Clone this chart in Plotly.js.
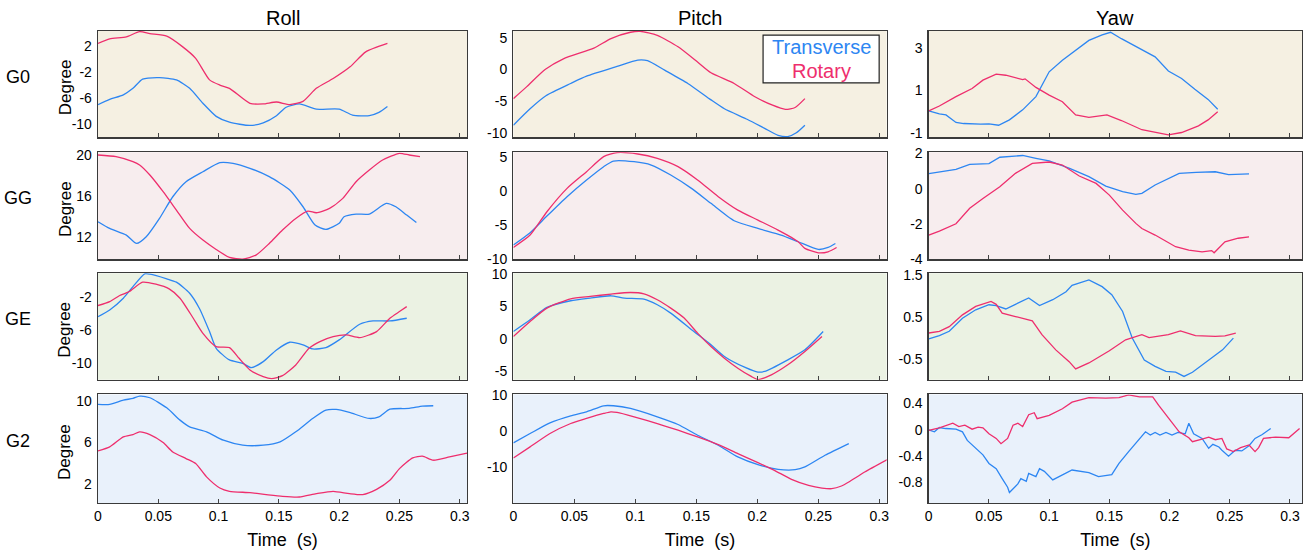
<!DOCTYPE html>
<html>
<head>
<meta charset="utf-8">
<script src="https://cdn.plot.ly/plotly-3.0.1.min.js"></script>
<style>html,body{margin:0;padding:0;background:#fff;}#chart{width:1305px;height:550px;}</style>
</head>
<body>
<div id="chart"></div>
<script>
// ---------- data ----------
const columns = ["Roll", "Pitch", "Yaw"];
const rows = ["G0", "GG", "GE", "G2"];
const seriesNames = ["Transverse", "Rotary"];

// Row G0
const rollG0_tTr = [0,0.0097,0.021,0.029,0.037,0.051,0.065,0.076,0.087,0.098,0.109,0.126,0.137,0.148,0.156,0.167,0.181,0.200,0.211,0.225,0.233,0.240];
const rollG0_tr  = [-7.0,-6.2,-5.5,-4.5,-3.1,-2.85,-3.2,-4.5,-6.8,-8.8,-9.7,-10.2,-9.8,-8.7,-7.4,-6.9,-7.7,-7.7,-8.6,-8.7,-8.2,-7.3];
const rollG0_tRo = [0,0.0097,0.0235,0.0345,0.043,0.057,0.070,0.081,0.0925,0.101,0.109,0.126,0.137,0.148,0.159,0.170,0.181,0.195,0.209,0.222,0.240];
const rollG0_ro  = [2.4,3.1,3.4,4.2,3.9,3.5,1.9,0.1,-3.2,-4.0,-4.5,-6.8,-6.9,-6.6,-7.0,-6.5,-4.5,-3.0,-1.2,1.1,2.4];

const pitchG0_tTr = [0,0.0137,0.027,0.047,0.060,0.085,0.102,0.110,0.124,0.143,0.162,0.173,0.192,0.206,0.217,0.225,0.232,0.239];
const pitchG0_tr  = [-8.8,-6.2,-4.1,-2.2,-1.05,0.5,1.5,1.4,-0.1,-2.2,-4.8,-6.2,-7.9,-9.3,-10.4,-10.6,-10.0,-8.8];
const pitchG0_tRo = [0,0.011,0.026,0.041,0.066,0.080,0.096,0.104,0.118,0.135,0.151,0.162,0.181,0.198,0.212,0.223,0.231,0.239];
const pitchG0_ro  = [-4.6,-2.7,0,1.7,3.4,4.9,5.9,6.05,5.4,3.6,1.2,-0.5,-2.2,-4.3,-5.6,-6.3,-6.0,-4.6];

const yawG0_tTr = [0,0.0088,0.0143,0.0226,0.029,0.036,0.043,0.050,0.054,0.058,0.067,0.078,0.089,0.100,0.111,0.122,0.133,0.144,0.151,0.160,0.177,0.188,0.199,0.210,0.221,0.232,0.240];
const yawG0_tr  = [0.04,-0.1,-0.15,-0.5,-0.55,-0.57,-0.58,-0.57,-0.6,-0.63,-0.38,0.09,0.71,1.87,2.41,2.88,3.34,3.6,3.72,3.42,2.9,2.57,1.91,1.56,1.05,0.58,0.12];
const yawG0_tRo = [0,0.0088,0.0226,0.036,0.045,0.056,0.064,0.078,0.080,0.089,0.100,0.111,0.122,0.133,0.148,0.160,0.177,0.199,0.210,0.224,0.232,0.240];
const yawG0_ro  = [0.04,0.27,0.71,1.09,1.48,1.76,1.71,1.51,1.54,1.14,0.78,0.47,-0.15,-0.26,-0.15,-0.41,-0.84,-1.08,-0.97,-0.66,-0.38,0.0];

// Row GG
const rollGG_tTr = [0,0.0097,0.0235,0.032,0.040,0.051,0.062,0.073,0.087,0.101,0.112,0.126,0.142,0.159,0.170,0.180,0.189,0.200,0.204,0.214,0.225,0.239,0.247,0.256,0.264];
const rollGG_tr  = [13.53,12.88,12.23,11.42,12.07,13.85,15.95,17.41,18.38,19.26,19.19,18.71,17.9,16.6,14.98,13.2,12.78,13.37,14.01,14.27,14.27,15.31,14.98,14.17,13.46];
const rollGG_tRo = [0,0.015,0.029,0.0345,0.043,0.054,0.065,0.076,0.087,0.098,0.109,0.120,0.131,0.142,0.153,0.164,0.174,0.181,0.192,0.203,0.214,0.225,0.236,0.250,0.258,0.267];
const rollGG_ro  = [20,19.84,19.35,19.03,18.06,16.44,14.66,12.88,11.75,10.84,10.06,9.9,10.29,11.42,12.72,13.85,14.56,14.4,14.82,15.79,17.41,18.54,19.51,20.16,20.0,19.84];

const pitchGG_tTr = [0,0.0137,0.0275,0.044,0.060,0.074,0.082,0.099,0.113,0.129,0.146,0.162,0.181,0.2005,0.2195,0.2335,0.250,0.258,0.264];
const pitchGG_tr  = [-7.89,-6.08,-3.63,-0.78,1.67,3.63,4.46,4.36,3.87,2.4,0.44,-1.76,-4.31,-5.44,-6.42,-7.4,-8.53,-8.24,-7.65];
const pitchGG_tRo = [0,0.0137,0.0275,0.044,0.060,0.074,0.085,0.102,0.118,0.135,0.151,0.168,0.184,0.2005,0.217,0.2335,0.239,0.250,0.258,0.265];
const pitchGG_ro  = [-8.24,-6.42,-2.99,0.44,2.89,5.1,5.69,5.49,4.85,3.63,1.67,-0.78,-2.75,-4.22,-5.69,-7.4,-8.38,-9.02,-8.87,-8.24];

const yawGG_tTr = [0,0.0088,0.0226,0.034,0.050,0.059,0.067,0.078,0.089,0.100,0.117,0.133,0.147,0.161,0.172,0.177,0.188,0.199,0.208,0.222,0.238,0.249,0.266];
const yawGG_tr  = [0.86,0.95,1.1,1.38,1.42,1.78,1.82,1.88,1.72,1.57,1.15,0.68,0.15,-0.17,-0.32,-0.26,0.21,0.55,0.87,0.93,0.96,0.8,0.84];
const yawGG_tRo = [0,0.0088,0.0226,0.034,0.045,0.059,0.072,0.086,0.100,0.111,0.125,0.139,0.150,0.161,0.172,0.177,0.188,0.205,0.216,0.227,0.235,0.237,0.246,0.257,0.266];
const yawGG_ro  = [-2.62,-2.4,-1.98,-1.11,-0.55,0.11,0.87,1.43,1.51,1.34,0.72,0.30,-0.36,-1.21,-1.96,-2.25,-2.62,-3.28,-3.47,-3.57,-3.5,-3.62,-3.0,-2.8,-2.72];

// Row GE
const rollGE_tTr = [0,0.0097,0.021,0.029,0.0387,0.043,0.057,0.065,0.076,0.084,0.0925,0.098,0.109,0.120,0.127,0.137,0.148,0.159,0.170,0.178,0.189,0.200,0.217,0.228,0.242,0.256];
const rollGE_tr  = [-4.34,-3.52,-2.08,-0.65,0.91,0.87,0.30,-0.11,-1.47,-3.31,-6.18,-8.23,-9.66,-10.07,-10.61,-9.87,-8.43,-7.49,-7.82,-8.31,-8.15,-7.2,-5.28,-4.87,-4.87,-4.54];
const rollGE_tRo = [0,0.0097,0.018,0.026,0.037,0.048,0.059,0.068,0.079,0.087,0.098,0.109,0.117,0.126,0.137,0.144,0.153,0.164,0.175,0.184,0.195,0.206,0.217,0.231,0.242,0.250,0.256];
const rollGE_ro  = [-2.98,-2.49,-1.75,-1.26,-0.11,-0.36,-0.93,-2.08,-4.54,-6.39,-8.02,-8.15,-9.46,-10.89,-11.71,-11.95,-11.59,-10.28,-8.23,-7.41,-6.8,-6.59,-6.92,-6.18,-4.54,-3.72,-3.11];

const pitchGE_tTr = [0,0.0137,0.0275,0.047,0.063,0.080,0.091,0.107,0.118,0.129,0.148,0.162,0.173,0.190,0.2005,0.206,0.225,0.239,0.254];
const pitchGE_tr  = [1.13,2.94,4.85,5.88,6.29,6.65,6.29,6.13,5.26,3.97,1.13,-0.93,-2.73,-4.43,-5.15,-5.05,-3.25,-1.70,1.13];
const pitchGE_tRo = [0,0.0137,0.0275,0.047,0.063,0.080,0.096,0.107,0.118,0.129,0.140,0.151,0.162,0.173,0.184,0.195,0.2005,0.2115,0.225,0.239,0.253];
const pitchGE_ro  = [0.36,2.68,4.74,6.19,6.55,6.91,7.16,6.96,6.03,4.74,3.2,0.88,-1.19,-2.99,-4.54,-5.82,-6.3,-5.57,-4.02,-1.96,0.36];

const yawGE_tTr = [0,0.0088,0.017,0.028,0.039,0.050,0.056,0.064,0.072,0.083,0.092,0.103,0.114,0.119,0.133,0.144,0.152,0.161,0.169,0.179,0.188,0.197,0.205,0.212,0.219,0.233,0.244,0.253];
const yawGE_tr  = [-0.02,0.06,0.16,0.47,0.67,0.79,0.77,0.69,0.80,0.95,0.77,0.91,1.10,1.25,1.38,1.22,1.03,0.63,0.0,-0.52,-0.67,-0.79,-0.81,-0.91,-0.81,-0.52,-0.28,0.0];
const yawGE_tRo = [0,0.0088,0.017,0.028,0.039,0.0517,0.056,0.061,0.072,0.086,0.094,0.1055,0.1166,0.122,0.133,0.150,0.1635,0.177,0.183,0.199,0.209,0.2215,0.238,0.246,0.255];
const yawGE_ro  = [0.12,0.16,0.27,0.55,0.75,0.87,0.80,0.59,0.51,0.41,0.08,-0.28,-0.56,-0.73,-0.59,-0.30,-0.04,0.08,0.01,0.08,0.17,0.06,0.04,0.05,0.12];

// Row G2
const rollG2_tTr = [0,0.0097,0.021,0.029,0.0345,0.043,0.057,0.068,0.076,0.090,0.104,0.120,0.137,0.151,0.164,0.178,0.189,0.1975,0.2085,0.225,0.233,0.242,0.258,0.269,0.278];
const rollG2_tr  = [9.65,9.65,10.06,10.23,10.45,10.29,9.32,8.13,7.48,7.0,6.19,5.71,5.71,6.03,7.0,8.29,9.10,9.16,8.87,8.29,8.45,9.19,9.26,9.48,9.52];
const rollG2_tRo = [0,0.0097,0.021,0.029,0.0345,0.043,0.054,0.062,0.073,0.081,0.090,0.101,0.109,0.126,0.1395,0.153,0.167,0.181,0.195,0.2085,0.2195,0.231,0.242,0.250,0.261,0.269,0.278,0.2915,0.306];
const rollG2_ro  = [5.16,5.55,6.52,6.74,7.0,6.74,5.97,5.06,4.42,3.94,2.65,1.58,1.26,1.13,0.94,0.77,0.71,1.03,1.26,1.03,0.94,1.45,2.32,3.45,4.48,4.65,4.26,4.58,4.95];

const pitchG2_tTr = [0,0.0137,0.030,0.047,0.060,0.074,0.082,0.096,0.118,0.135,0.151,0.168,0.184,0.2005,0.217,0.231,0.239,0.2555,0.275];
const pitchG2_tr  = [-3.2,-0.62,2.34,4.28,5.38,7.05,7.05,6.31,4.0,1.87,-1.08,-3.85,-7.08,-9.2,-10.5,-10.6,-9.85,-6.62,-3.39];
const pitchG2_tRo = [0,0.0137,0.030,0.047,0.060,0.074,0.080,0.085,0.099,0.118,0.135,0.151,0.168,0.184,0.2005,0.214,0.228,0.242,0.253,0.261,0.269,0.275,0.288,0.308];
const pitchG2_ro  = [-7.36,-4.31,-0.62,2.15,3.54,4.92,5.38,5.2,4.0,2.15,0.30,-1.54,-3.67,-6.16,-8.65,-10.78,-13.27,-14.93,-15.67,-15.85,-15.11,-14.0,-11.24,-7.54];

const yawG2_tTr = [0,0.0047,0.0088,0.014,0.0226,0.028,0.032,0.039,0.045,0.050,0.056,0.061,0.0655,0.067,0.071,0.074,0.0765,0.081,0.083,0.089,0.092,0.096,0.103,0.111,0.119,0.133,0.141,0.152,0.158,0.166,0.175,0.180,0.184,0.188,0.192,0.197,0.202,0.207,0.213,0.216,0.220,0.227,0.2325,0.236,0.241,0.2435,0.249,0.2545,0.260,0.266,0.271,0.277,0.284];
const yawG2_tr  = [0.0,-0.03,0.035,0.02,0.01,-0.03,-0.16,-0.28,-0.38,-0.51,-0.59,-0.74,-0.87,-0.95,-0.87,-0.82,-0.74,-0.78,-0.66,-0.71,-0.59,-0.63,-0.76,-0.69,-0.61,-0.65,-0.71,-0.68,-0.51,-0.33,-0.13,-0.03,-0.08,-0.04,-0.08,-0.04,-0.08,-0.04,-0.06,0.10,-0.06,-0.13,-0.28,-0.22,-0.26,-0.31,-0.40,-0.31,-0.32,-0.24,-0.13,-0.07,0.02];
const yawG2_tRo = [0,0.0088,0.020,0.025,0.030,0.036,0.041,0.045,0.050,0.056,0.060,0.0655,0.070,0.074,0.078,0.083,0.0876,0.090,0.100,0.111,0.119,0.133,0.147,0.158,0.166,0.175,0.186,0.191,0.1995,0.208,0.216,0.219,0.227,0.2325,0.238,0.2435,0.2475,0.253,0.259,0.266,0.271,0.274,0.278,0.288,0.299,0.308];
const yawG2_ro  = [-0.01,0.03,0.10,0.05,0.07,0.01,0.04,0.03,-0.06,-0.13,-0.21,-0.13,0.07,0.10,0.05,0.23,0.26,0.17,0.22,0.32,0.42,0.49,0.48,0.49,0.53,0.50,0.50,0.37,0.17,-0.03,-0.12,-0.18,-0.14,-0.11,-0.15,-0.13,-0.29,-0.33,-0.27,-0.23,-0.33,-0.27,-0.13,-0.11,-0.12,0.02];

// y ticks per panel (row-major)
const yTicks = [
  [2,-2,-6,-10], [5,0,-5,-10], [3,1,-1],
  [20,16,12], [5,0,-5,-10], [2,0,-2,-4],
  [-2,-6,-10], [10,5,0,-5], [1.5,0.5,-0.5],
  [10,6,2], [10,0,-10,-20], [0.4,0,-0.4,-0.8]
];
const yRanges = [
  [-12,4.3], [-10.7,6.1], [-1.19,3.78],
  [9.87,20.26], [-10,5.74], [-4,2.06],
  [-12.1,1.0], [-6.34,10.15], [-0.99,1.54],
  [0.13,10.61], [-19.8,10.18], [-1.11,0.537]
];
const xRanges = [[0,0.306],[0,0.306],[0,0.31]];
const rowColors = ["#f5f0e2", "#f7edee", "#ebf2e3", "#e9f1fb"];

const panels = [
  [rollG0_tTr,rollG0_tr,rollG0_tRo,rollG0_ro,'spline'],
  [pitchG0_tTr,pitchG0_tr,pitchG0_tRo,pitchG0_ro,'spline'],
  [yawG0_tTr,yawG0_tr,yawG0_tRo,yawG0_ro,'linear'],
  [rollGG_tTr,rollGG_tr,rollGG_tRo,rollGG_ro,'spline'],
  [pitchGG_tTr,pitchGG_tr,pitchGG_tRo,pitchGG_ro,'spline'],
  [yawGG_tTr,yawGG_tr,yawGG_tRo,yawGG_ro,'linear'],
  [rollGE_tTr,rollGE_tr,rollGE_tRo,rollGE_ro,'spline'],
  [pitchGE_tTr,pitchGE_tr,pitchGE_tRo,pitchGE_ro,'spline'],
  [yawGE_tTr,yawGE_tr,yawGE_tRo,yawGE_ro,'linear'],
  [rollG2_tTr,rollG2_tr,rollG2_tRo,rollG2_ro,'spline'],
  [pitchG2_tTr,pitchG2_tr,pitchG2_tRo,pitchG2_ro,'spline'],
  [yawG2_tTr,yawG2_tr,yawG2_tRo,yawG2_ro,'linear']
];

// ---------- layout ----------
const BLUE = "#2d86f2", PINK = "#ee2e6d";
const FONT = "Liberation Sans, Arial, Helvetica, sans-serif";
const colDomains = [[0,0.3065],[0.345,0.655],[0.690,1]];
const rowDomains = [[0.775,1],[0.516,0.743],[0.261,0.487],[0,0.230]];

const traces = [];
const layout = {
  width: 1305, height: 550,
  margin: {l: 98, r: 3, t: 31, b: 47},
  paper_bgcolor: "#ffffff", plot_bgcolor: "#ffffff",
  showlegend: false,
  font: {family: FONT, size: 14, color: "#000"},
  shapes: [], annotations: []
};

panels.forEach((p, i) => {
  const r = Math.floor(i / 3), c = i % 3;
  const n = i === 0 ? "" : String(i + 1);
  const xa = "x" + n, ya = "y" + n;
  const lineShape = p[4];
  traces.push({x: p[0], y: p[1], xaxis: xa, yaxis: ya, type: "scatter", mode: "lines",
    name: seriesNames[0], line: {color: BLUE, width: 1.3, shape: lineShape, smoothing: 0.6}});
  traces.push({x: p[2], y: p[3], xaxis: xa, yaxis: ya, type: "scatter", mode: "lines",
    name: seriesNames[1], line: {color: PINK, width: 1.3, shape: lineShape, smoothing: 0.6}});
  const bottom = r === 3;
  layout["xaxis" + n] = {
    domain: colDomains[c], anchor: ya, range: xRanges[c],
    dtick: 0.05, tick0: 0, ticks: "inside", ticklen: 4, tickcolor: "#444",
    showticklabels: bottom, showgrid: false, zeroline: false,
    showline: true, mirror: true, linecolor: "#3a3a3a", linewidth: 1.3,
    tickfont: {size: 14, family: FONT},
    title: bottom ? {text: "Time  (s)", font: {size: 18, family: FONT}, standoff: 10} : {text: ""}
  };
  layout["yaxis" + n] = {
    domain: rowDomains[r], anchor: xa, range: yRanges[i],
    tickvals: yTicks[i], ticktext: yTicks[i].map(v => String(v)),
    ticks: "", showgrid: false, zeroline: false,
    showline: true, mirror: true, linecolor: "#3a3a3a", linewidth: 1.3,
    tickfont: {size: 14, family: FONT}, ticklabelstandoff: 2
  };
  layout.shapes.push({type: "rect", xref: xa + " domain", yref: ya + " domain",
    x0: 0, x1: 1, y0: 0, y1: 1, fillcolor: rowColors[r], line: {width: 0}, layer: "below"});
  if (c === 0) {
    layout.annotations.push({text: "Degree", textangle: -90, xref: "paper", yref: ya + " domain",
      x: -0.0274, y: 0.47, xanchor: "center", yanchor: "middle", showarrow: false,
      font: {size: 17, family: FONT}});
    layout.annotations.push({text: rows[r], xref: "paper", yref: ya + " domain",
      x: -0.0664, y: 0.57, xanchor: "center", yanchor: "middle", showarrow: false,
      font: {size: 18, family: FONT}});
  }
  if (r === 0) {
    layout.annotations.push({text: columns[c], xref: xa + " domain", yref: ya + " domain",
      x: 0.5, y: 1.12, xanchor: "center", yanchor: "middle", showarrow: false,
      font: {size: 20, family: FONT}});
  }
});

// legend box in Pitch/G0 panel
layout.shapes.push({type: "rect", xref: "x2 domain", yref: "y2 domain",
  x0: 0.669, x1: 0.980, y0: 0.511, y1: 0.962, fillcolor: "#ffffff",
  line: {color: "#222", width: 1.2}, layer: "above"});
layout.annotations.push({text: seriesNames[0], xref: "x2 domain", yref: "y2 domain",
  x: 0.8245, y: 0.845, xanchor: "center", yanchor: "middle", showarrow: false,
  font: {size: 20, family: FONT, color: BLUE}});
layout.annotations.push({text: seriesNames[1], xref: "x2 domain", yref: "y2 domain",
  x: 0.8245, y: 0.625, xanchor: "center", yanchor: "middle", showarrow: false,
  font: {size: 20, family: FONT, color: PINK}});

Plotly.newPlot("chart", traces, layout, {displayModeBar: false, staticPlot: true});
</script>
</body>
</html>
